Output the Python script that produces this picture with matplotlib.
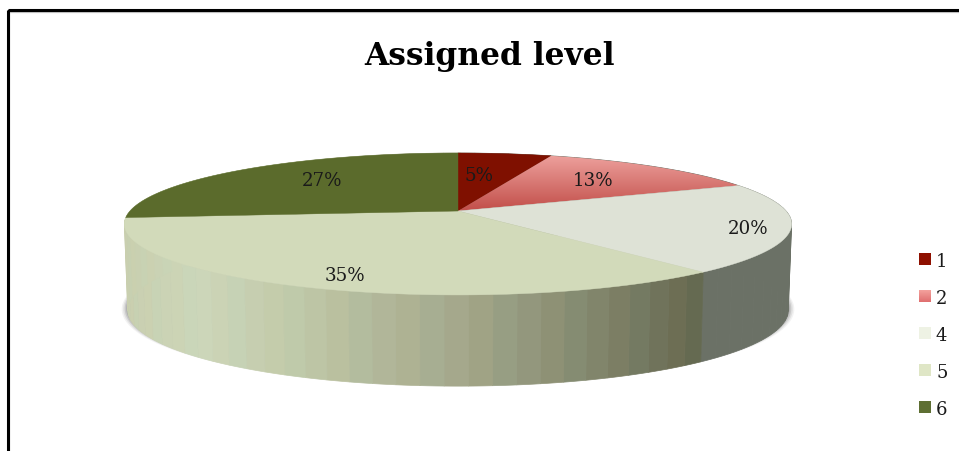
import numpy as np
import matplotlib
matplotlib.use("Agg")
import matplotlib.pyplot as plt
from matplotlib.patches import Polygon, Rectangle

# %% Data
title = "Assigned level"
levels = ["1", "2", "4", "5", "6"]
shares = [5.4, 13.1, 20.4, 34.6, 26.5]   # unrounded estimates, read from the slice edges
pct_labels = ["5%", "13%", "20%", "35%", "27%"]

# %% Style / layout (everything in pixels of the 959x452 picture)
top_colors = ["#7F1000", "#E58C88", "#DEE2D6", "#D2DABA", "#5B6B2C"]
legend_colors = ["#8E1000", "#F08080", "#EEF2E4", "#DFE6C6", "#5E6F33"]
label_pos = [(479, 176), (593, 181), (748, 229), (345, 276), (322, 181)]
CX, CY = 458, 212      # apex of the pie
A, B, K = 328, 68.6, 0.183   # projected disc: half width, half height, perspective
FONT = ["DejaVu Serif"]

fig = plt.figure(figsize=(9.59, 4.52), dpi=100)
ax = fig.add_axes([0, 0, 1, 1])
ax.set_xlim(0, 959)
ax.set_ylim(452, 0)
ax.axis("off")


def project(theta, drop=False, scale=1.0):
    """Clockwise angle from 12 o'clock on the unit disc -> picture pixels."""
    u, v = np.sin(theta), np.cos(theta)
    w = 1 + K * v
    dy = 85 - 7 * v if drop else 0.0
    return CX + scale * A * u / w, CY + dy - scale * B * v / w


# frame: black line plus thin grey inner line, open at right and bottom
ax.add_patch(Rectangle((9, 13), 960, 460, fc="none", ec="#C4C4C4", lw=1.6))
ax.add_patch(Rectangle((8, 11), 960, 460, fc="none", ec="black", lw=2.2))

edges = 2 * np.pi * np.concatenate([[0], np.cumsum(shares)]) / sum(shares)

# soft drop shadow under the bottom rim
ring = np.linspace(0, 2 * np.pi, 361)
for grow, alpha in [(6, 0.08), (4.5, 0.12), (3, 0.18), (1.5, 0.25)]:
    sx, sy = project(ring, drop=True, scale=0.99)
    sx = CX + (sx - CX) * (1 + grow / 330)
    sy = sy + grow * 0.2 - 2
    ax.fill(sx, sy, color="#606060", alpha=alpha, lw=0, zorder=1)

# side wall, shaded along x in narrow bands
shade_x = [125, 200, 300, 400, 458, 550, 650, 700]
shade_c = np.array([[201, 207, 176], [204, 214, 186], [192, 200, 168], [174, 179, 150],
                    [165, 168, 140], [142, 146, 120], [115, 118, 94], [102, 104, 79]])
tint = [(0, 0, 0), (-2, 1, 1), (1, 0, -2)]
step = np.radians(3.5)
band_edges = np.arange(0, 2 * np.pi + step, step)
for i, (t0, t1) in enumerate(zip(band_edges[:-1], band_edges[1:])):
    tt = np.linspace(t0, t1, 4)
    x0, y0 = project(tt)
    x1, y1 = project(tt[::-1], drop=True, scale=0.99)
    mid = (t0 + t1) / 2
    xm = project(mid)[0]
    if mid < edges[3]:
        rgb = np.array([107, 113, 102])
    else:
        rgb = np.array([np.interp(xm, shade_x, shade_c[:, c]) for c in range(3)]) + tint[i % 3]
    col = np.clip(rgb, 0, 255) / 255
    ax.fill(np.r_[x0, x1], np.r_[y0, y1], color=col, ec=col, lw=0.5, zorder=2)

# top surface
for i in range(len(shares)):
    tt = np.linspace(edges[i], edges[i + 1], 120)
    x, y = project(tt)
    xs, ys = np.r_[CX, x], np.r_[CY, y]
    if levels[i] == "2":
        # slice 2 fades from pale pink to red towards the inner edge
        grad = np.linspace(0, 1, 64).reshape(-1, 1)
        cmap = matplotlib.colors.LinearSegmentedColormap.from_list("r", ["#EDA09C", "#C24F4A"])
        im = ax.imshow(grad, cmap=cmap, extent=(xs.min(), xs.max(), ys.max(), ys.min()),
                       aspect="auto", zorder=3)
        im.set_clip_path(Polygon(np.c_[xs, ys], transform=ax.transData))
        ax.set_xlim(0, 959)
        ax.set_ylim(452, 0)
    else:
        ax.fill(xs, ys, color=top_colors[i], lw=0.3, ec=top_colors[i], zorder=3)

# percent labels
for (lx, ly), txt in zip(label_pos, pct_labels):
    ax.text(lx, ly, txt, ha="center", va="center", fontsize=13.2, family=FONT,
            color="#1A1A1A", zorder=5)

ax.text(489, 56, title, ha="center", va="center", fontsize=22.5, fontweight="bold",
        family=FONT, color="black")

# legend
for i, (lev, col) in enumerate(zip(levels, legend_colors)):
    ly = 260 + i * 37
    if lev == "2":
        cmap = matplotlib.colors.LinearSegmentedColormap.from_list("l", ["#F3A09C", "#E07070"])
        ax.imshow(np.linspace(0, 1, 16).reshape(-1, 1), cmap=cmap,
                  extent=(919, 931, ly + 6, ly - 6), aspect="auto", zorder=3)
        ax.set_xlim(0, 959)
        ax.set_ylim(452, 0)
    else:
        ax.add_patch(Rectangle((919, ly - 6), 12, 12, fc=col, ec="none"))
    ax.text(936, ly + 2, lev, ha="left", va="center", fontsize=13, family=FONT, color="#1A1A1A")

fig.savefig("out.png", dpi=100, facecolor="white")
